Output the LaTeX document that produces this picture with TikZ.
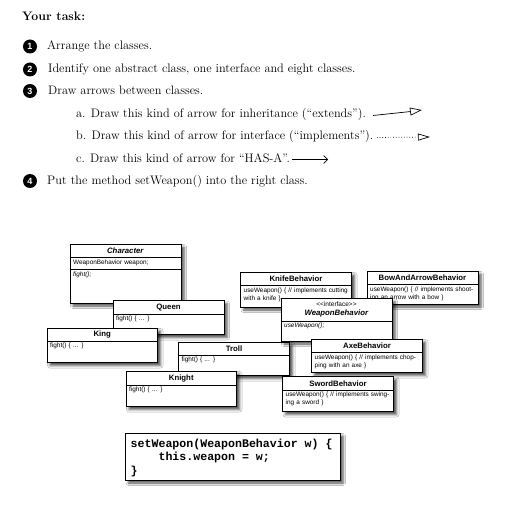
\documentclass[tikz,border=0pt]{standalone}
\usepackage{fontspec}
\newfontfamily\umlfont{Liberation Sans}
\newfontfamily\codefont{Liberation Mono}
\usetikzlibrary{arrows.meta,shadows.blur}

% one UML class: name, x, y, width, height, title height, title, body
\newcommand{\classbox}[8]{%
  \node[classframe,minimum width=#4pt,minimum height=#5pt] (#1) at (#2,#3) {};
  \node[classtitle] (#1 title) at ({#2+#4/2},{#3+#6/2}) {#7};
  \draw[line width=.6pt] (#1.north west) ++(0,#6) -- ++(#4,0);
  \node[classbody] (#1 body) at ({#2+3},{#3+#6+1.8}) {#8};
}

\begin{document}
\begin{tikzpicture}[x=1pt,y=-1pt,
    tasktext/.style={anchor=base west,inner sep=0pt,font=\fontsize{12.3}{15}\selectfont},
    numdot/.style={circle,fill=black,inner sep=0pt,minimum size=14pt,text=white,font=\umlfont\bfseries\fontsize{9}{9}\selectfont},
    classframe/.style={draw,fill=white,line width=.6pt,anchor=north west,inner sep=0pt,outer sep=0pt,
      blur shadow={shadow xshift=3pt,shadow yshift=-3pt,shadow blur radius=2.5pt,shadow opacity=70}},
    classtitle/.style={inner sep=0pt,align=center,font=\umlfont\bfseries\fontsize{7.8}{8}\selectfont},
    classbody/.style={anchor=north west,inner sep=0pt,text width=108pt,align=left,font=\umlfont\fontsize{6.4}{8.2}\selectfont},
    extends/.style={-{Triangle[open,length=12pt,width=8pt]},line width=.7pt},
    implements/.style={dotted,-{Triangle[open,length=12pt,width=7pt]},line width=.7pt},
    hasa/.style={-{Straight Barb[length=4pt,width=8pt]},line width=.6pt}]
\fill[white] (0,0) rectangle (510,518);

% the task list
\node[anchor=base west,inner sep=0pt,font=\fontsize{12.3}{15}\selectfont\bfseries] (task) at (22,20.5) {Your task:};
\node[numdot] (n1) at (30,46.5) {1};
\node[numdot] (n2) at (30,69.5) {2};
\node[numdot] (n3) at (30,91) {3};
\node[numdot] (n4) at (30,181) {4};
\node[tasktext] (item1) at (47,50) {Arrange the classes.};
\node[tasktext] (item2) at (48,73) {Identify one abstract class, one interface and eight classes.};
\node[tasktext] (item3) at (48,95) {Draw arrows between classes.};
\node[tasktext] (itema) at (76,118) {a. Draw this kind of arrow for inheritance (``extends'').};
\node[tasktext] (itemb) at (76,140) {b. Draw this kind of arrow for interface (``implements'').};
\node[tasktext] (itemc) at (76,162.5) {c. Draw this kind of arrow for ``HAS-A''.};
\node[tasktext] (item4) at (47,185) {Put the method setWeapon() into the right class.};

% the three kinds of arrow
\coordinate (ext from) at (373,115.5);
\coordinate (ext to) at (422,110);
\coordinate (imp from) at (377,137.5);
\coordinate (imp to) at (430,137);
\coordinate (has from) at (292,159.5);
\coordinate (has to) at (328,159.5);
\draw[extends] (ext from) .. controls (392,114) .. (ext to);
\draw[implements] (imp from) -- (imp to);
\draw[hasa] (has from) -- (has to);

% the classes, back to front
\classbox{Character}{70}{244}{111}{59}{13.5}{\textit{Character}}{WeaponBehavior weapon;}
\draw[line width=.6pt] (Character.north west) ++(0,25.3) -- ++(111,0);
\node[classbody] (Character fight) at (73,272) {\textit{fight();}};
\classbox{Queen}{113}{300.5}{111}{34}{13.5}{Queen}{fight() \{ ... \}}
\classbox{King}{47}{328}{110.5}{34.5}{13}{King}{fight() \{ ... \}}
\classbox{Troll}{178.5}{342}{111}{33.5}{13}{Troll}{fight() \{ ... \}}
\classbox{Knight}{126}{371}{110.5}{35.5}{14}{Knight}{fight() \{ ... \}}
\classbox{Knife}{240.5}{272}{111}{35}{13.5}{KnifeBehavior}{useWeapon() \{ // implements cutting\\with a knife \}}
\classbox{Bow}{367}{271}{111}{33}{13.5}{BowAndArrowBehavior}{useWeapon() \{ // implements shoot-\\ing an arrow with a bow \}}
\classbox{Weapon}{281}{298.5}{111}{42.5}{22.5}{{\mdseries\fontsize{6.5}{7}\selectfont <<interface>>}\\[1pt]\textit{WeaponBehavior}}{\textit{useWeapon();}}
\classbox{Axe}{311.5}{339}{111}{33.5}{13.5}{AxeBehavior}{useWeapon() \{ // implements chop-\\ping with an axe \}}
\classbox{Sword}{282.5}{376.5}{111}{35}{13.5}{SwordBehavior}{useWeapon() \{ // implements swing-\\ing a sword \}}

% the method to place
\node[classframe,minimum width=214.5pt,minimum height=47pt] (setter) at (125.5,433) {};
\node[anchor=north west,inner sep=0pt,align=left,font=\codefont\bfseries\fontsize{11.6}{13.7}\selectfont] (setter code) at (130.5,438.5)
  {setWeapon(WeaponBehavior w) \{\\\phantom{setW}this.weapon = w;\\\}};
\end{tikzpicture}
\end{document}
